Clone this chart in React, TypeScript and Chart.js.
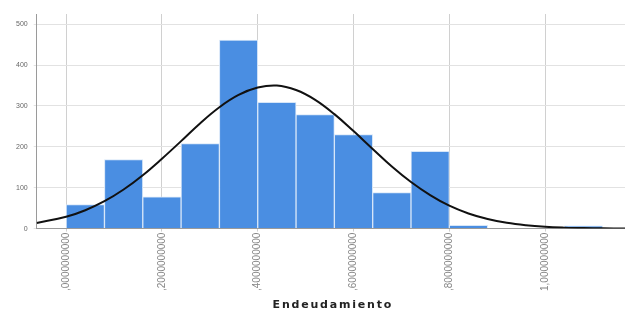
import React, { useEffect, useRef } from "react";
import { Chart, registerables } from "chart.js";

Chart.register(...registerables);

// Histogram bins (centres of each bin, in Endeudamiento units) and frequencies
const binCenters = [0.04, 0.12, 0.2, 0.28, 0.36, 0.44, 0.52, 0.6, 0.68, 0.76, 0.84, 0.92, 1.0, 1.08, 1.16];
const frequencies = [59, 169, 78, 208, 461, 309, 279, 230, 88, 189, 8, 0, 0, 7, 0];

// Normal curve
const curveX = [-0.0615, 0, 0.04, 0.08, 0.12, 0.16, 0.2, 0.24, 0.28, 0.32, 0.36, 0.4, 0.44, 0.48, 0.52, 0.56, 0.6, 0.64, 0.68, 0.72, 0.76, 0.8, 0.84, 0.88, 0.92, 0.96, 1.0, 1.04, 1.08, 1.12, 1.1668];
const curveY = [13.8, 28.9, 45, 67, 95.6, 130.6, 171, 214, 258, 297, 327, 345, 350, 339, 315, 280, 238.5, 195, 152, 114, 82, 56, 37, 23.4, 14.1, 8.2, 4.5, 2.4, 1.2, 0.6, 0.2];

// Axis ticks
const xTickValues = [0, 0.2, 0.4, 0.6, 0.8, 1.0];
const xTickLabels = [",0000000000", ",2000000000", ",4000000000", ",6000000000", ",8000000000", "1,000000000"];
const yTickValues = [0, 100, 200, 300, 400, 500];

const xTitle = "Endeudamiento";

const spacedTitle = {
  id: "spacedTitle",
  afterDraw(chart: any) {
    const { ctx, chartArea } = chart;
    ctx.save();
    ctx.font = "bold 11px 'DejaVu Sans'";
    (ctx as any).letterSpacing = "1.8px";
    ctx.fillStyle = "#222";
    ctx.textAlign = "center";
    ctx.textBaseline = "middle";
    ctx.fillText(xTitle, (chartArea.left + chartArea.right) / 2 + 2, 305);
    (ctx as any).letterSpacing = "0px";
    ctx.restore();
  },
};

export default function App() {
  const ref = useRef<HTMLCanvasElement | null>(null);

  useEffect(() => {
    if (!ref.current) return;
    const chart = new Chart(ref.current, {
      type: "bar",
      data: {
        datasets: [
          {
            type: "line",
            data: curveX.map((x, i) => ({ x, y: curveY[i] })),
            borderColor: "#111111",
            borderWidth: 2,
            pointRadius: 0,
            tension: 0.4,
            fill: false,
            order: 0,
          } as any,
          {
            type: "bar",
            data: binCenters.map((x, i) => ({ x, y: frequencies[i] })),
            backgroundColor: "#4a8ee2",
            borderColor: "#d6e6f8",
            borderWidth: 1,
            borderSkipped: "bottom",
            barPercentage: 1,
            categoryPercentage: 1,
            order: 1,
          } as any,
        ],
      },
      options: {
        responsive: false,
        animation: false,
        layout: { padding: { left: 10, top: 14, right: 0, bottom: 19 } },
        plugins: { legend: { display: false }, tooltip: { enabled: false } },
        scales: {
          x: {
            type: "linear",
            offset: false,
            min: -0.0615,
            max: 1.1668,
            afterBuildTicks: (scale: any) => {
              scale.ticks = xTickValues.map((v) => ({ value: v }));
            },
            ticks: {
              autoSkip: false,
              maxRotation: 90,
              minRotation: 90,
              color: "#858585",
              font: { family: "Liberation Sans", size: 10 },
              padding: 1,
              callback: (_v: any, i: number) => xTickLabels[i],
            },
            grid: { color: "#d0d0d0", lineWidth: 1, tickLength: 3, offset: false, drawOnChartArea: true },
            border: { color: "#9a9a9a" },
            title: { display: false, text: xTitle },
          },
          y: {
            min: 0,
            max: 525,
            afterBuildTicks: (scale: any) => {
              scale.ticks = yTickValues.map((v) => ({ value: v }));
            },
            ticks: {
              color: "#666",
              font: { family: "Liberation Sans", size: 7 },
              padding: 6,
            },
            grid: { color: "#e2e2e2", tickLength: 3 },
            border: { color: "#9a9a9a" },
          },
        },
      },
      plugins: [spacedTitle],
    });
    return () => chart.destroy();
  }, []);

  return (
    <div style={{ position: "fixed", left: 0, top: 0, width: 625, height: 311, background: "#fff" }}>
      <canvas ref={ref} width={625} height={311} />
    </div>
  );
}
